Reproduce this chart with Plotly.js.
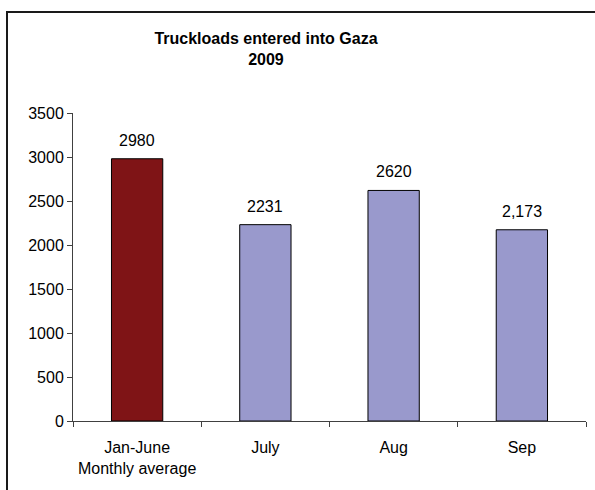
<!DOCTYPE html>
<html>
<head>
<meta charset="utf-8">
<script src="https://cdn.plot.ly/plotly-3.0.1.min.js"></script>
<style>
  html, body { margin: 0; padding: 0; background: #fff; }
  #wrap { position: relative; width: 595px; height: 490px; }
  #chart { width: 595px; height: 490px; }
  #frame { position: absolute; left: 6px; top: 11px; width: 700px; height: 600px;
           border-left: 2px solid #1a1a1a; border-top: 2px solid #1a1a1a; pointer-events: none; }
</style>
</head>
<body>
<div id="wrap">
  <div id="chart"></div>
  <div id="frame"></div>
</div>
<script>
const categories = ["Jan-June<br>Monthly average", "July", "Aug", "Sep"];
const values = [2980, 2231, 2620, 2173];
const valueLabels = ["2980", "2231", "2620", "2,173"];
const barColors = ["#7F1416", "#9999CC", "#9999CC", "#9999CC"];
const yTicks = [0, 500, 1000, 1500, 2000, 2500, 3000, 3500];

const FONT = "Liberation Sans, Arial, sans-serif";

const trace = {
  type: "bar",
  x: categories,
  y: values,
  marker: { color: barColors, line: { color: "#000", width: 1 } },
  hoverinfo: "none"
};

const labelAnnotations = categories.map((c, i) => ({
  x: c, y: values[i], xref: "x", yref: "y",
  text: valueLabels[i], showarrow: false,
  yanchor: "bottom", yshift: 8,
  font: { family: FONT, size: 16, color: "#000" }
}));

const layout = {
  width: 595, height: 490,
  margin: { l: 73, r: 9, t: 113, b: 69 },
  paper_bgcolor: "#fff", plot_bgcolor: "#fff",
  bargap: 0.6,
  showlegend: false,
  font: { family: FONT, size: 16, color: "#000" },
  title: {
    text: "<b>Truckloads entered into Gaza<br>2009</b>",
    font: { family: FONT, size: 16, color: "#000" },
    xref: "container", x: 0.447, xanchor: "center",
    yref: "container", y: 0.91, yanchor: "middle"
  },
  annotations: labelAnnotations,
  xaxis: {
    type: "category",
    showline: true, linecolor: "#404040", linewidth: 1,
    ticks: "outside", tickson: "boundaries", ticklen: 5, tickcolor: "#404040",
    ticklabelstandoff: 12,
    showgrid: false, zeroline: false,
    tickfont: { size: 16 }
  },
  yaxis: {
    range: [0, 3500],
    tickvals: yTicks,
    showline: true, linecolor: "#404040", linewidth: 1,
    ticks: "outside", ticklen: 5, tickcolor: "#404040",
    showgrid: false, zeroline: false,
    tickfont: { size: 16 }
  }
};

Plotly.newPlot("chart", [trace], layout, { staticPlot: true, displayModeBar: false });
</script>
</body>
</html>
